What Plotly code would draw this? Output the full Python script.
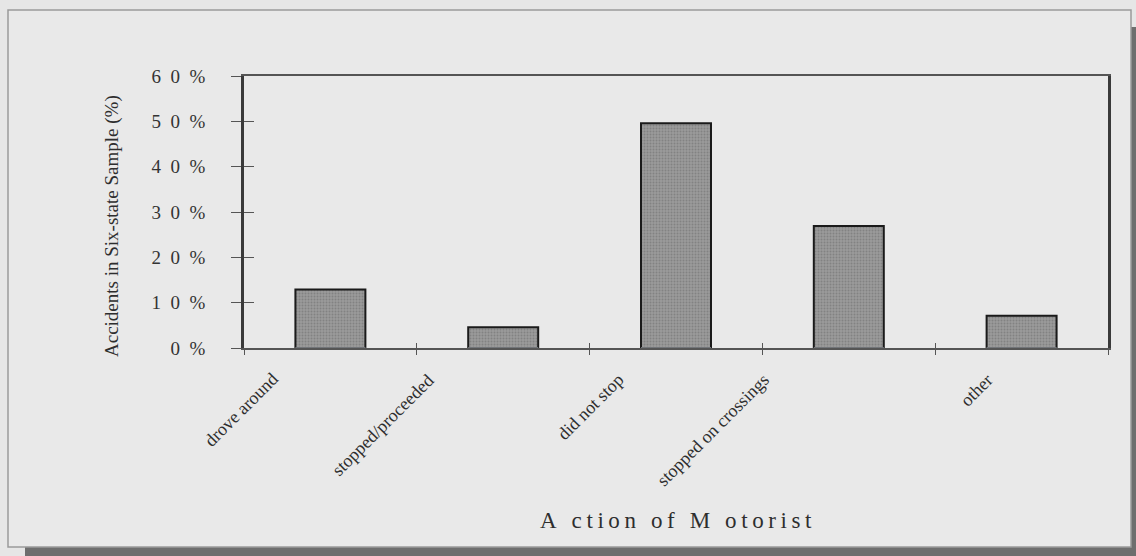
import plotly.graph_objects as go

# ---- data ----
categories = ["drove around", "stopped/proceeded", "did not stop",
              "stopped on crossings", "other"]
accident_share = [12.9, 4.6, 49.6, 26.9, 7.1]          # percent
y_tick_values = [0, 10, 20, 30, 40, 50, 60]
y_tick_labels = ["0\u2002%", "1\u20020\u2002%", "2\u20020\u2002%", "3\u20020\u2002%",
                 "4\u20020\u2002%", "5\u20020\u2002%", "6\u20020\u2002%"]
x_title = "A ction of M otorist"
y_title = "Accidents in Six-state Sample (%)"

W, H = 1136, 556
L, R, T, B = 244, 28, 76, 208
pw, ph = W - L - R, H - T - B

def px_x(v):  # figure pixel -> paper x
    return (v - L) / pw

def px_y(v):  # figure pixel -> paper y
    return (H - B - v) / ph

TXT = "#2e2e2e"
SERIF = "Liberation Serif, Times New Roman, serif"

fig = go.Figure()
fig.add_trace(go.Bar(
    x=categories, y=accident_share,
    marker=dict(color="#8e8e8e",
                line=dict(color="#1a1a1a", width=2),
                pattern=dict(shape=".", size=3, solidity=0.35,
                             fgcolor="#6a6a6a", bgcolor="#9a9a9a")),
    hoverinfo="x+y",
))

# category labels, rotated like the original
annotations = []
for c in categories:
    annotations.append(dict(
        x=c, y=0, xref="x", yref="y", text=c, showarrow=False,
        textangle=-45, xanchor="right", yanchor="top",
        xshift=-(5 + 3.4 * len(c)), yshift=-19,
        font=dict(family=SERIF, size=18, color=TXT)))

annotations.append(dict(
    x=0.5, y=px_y(520), xref="paper", yref="paper",
    text="\u2009".join(x_title), showarrow=False,
    xanchor="center", yanchor="middle",
    font=dict(family=SERIF, size=23, color=TXT)))
annotations.append(dict(
    x=px_x(112), y=px_y(226), xref="paper", yref="paper",
    text=y_title, showarrow=False, textangle=-90,
    xanchor="center", yanchor="middle",
    font=dict(family=SERIF, size=19, color=TXT)))

shapes = [
    # drop shadow of the frame
    dict(type="rect", xref="paper", yref="paper", layer="below",
         x0=px_x(25), x1=px_x(1140), y0=px_y(560), y1=px_y(27),
         fillcolor="#6e6e6e", line=dict(width=0)),
    # frame
    dict(type="rect", xref="paper", yref="paper", layer="below",
         x0=px_x(8), x1=px_x(1131), y0=px_y(547), y1=px_y(10),
         fillcolor="#e9e9e9", line=dict(color="#9a9a9a", width=1.5)),
]

fig.update_layout(
    width=W, height=H,
    margin=dict(l=L, r=R, t=T, b=B, autoexpand=False),
    paper_bgcolor="#e6e6e6",
    plot_bgcolor="rgba(0,0,0,0)",
    showlegend=False,
    bargap=0.595,
    annotations=annotations,
    shapes=shapes,
    xaxis=dict(type="category", categoryarray=categories, range=[-0.5, 4.5],
               showticklabels=False, showgrid=False, zeroline=False,
               ticks="outside", ticklen=5, tickcolor="#555", tickwidth=1,
               tickson="boundaries",
               showline=True, linecolor="#555", linewidth=1.5, mirror=True),
    xaxis2=dict(type="category", categoryarray=categories, range=[-0.5, 4.5],
                overlaying="x", matches="x", showticklabels=False, showgrid=False,
                zeroline=False, ticks="inside", ticklen=5, tickcolor="#555",
                tickwidth=1, tickson="boundaries", showline=False),
    yaxis=dict(range=[0, 60], tickvals=y_tick_values, ticktext=y_tick_labels,
               showgrid=False, zeroline=False,
               ticks="outside", ticklen=10, tickcolor="#555", tickwidth=1,
               ticklabelstandoff=22,
               tickfont=dict(family=SERIF, size=19, color="#333"),
               showline=True, linecolor="#3a3a3a", linewidth=2.5, mirror=True),
    yaxis2=dict(range=[0, 60], overlaying="y", matches="y", tickvals=y_tick_values,
                showticklabels=False, showgrid=False, zeroline=False,
                ticks="inside", ticklen=10, tickcolor="#555", tickwidth=1,
                showline=False),
)
# invisible helper so the overlay axes draw their inside ticks
fig.add_trace(go.Bar(x=categories, y=[0] * len(categories), xaxis="x2", yaxis="y2",
                     marker=dict(color="rgba(0,0,0,0)"), hoverinfo="skip",
                     showlegend=False))

fig.write_html("out.html",
               config={"displayModeBar": False},
               post_script="document.body.style.margin='0';"
                           "document.body.style.overflow='hidden';")
